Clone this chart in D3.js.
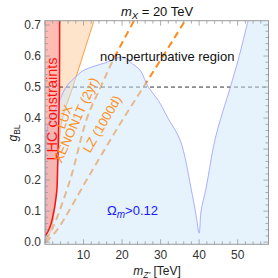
<!DOCTYPE html>
<html>
<head>
<meta charset="utf-8">
<script src="https://cdn.jsdelivr.net/npm/d3@7"></script>
<style>
  body { margin: 0; background: #fff; }
  text { font-family: "Liberation Sans", Arial, sans-serif; }
</style>
</head>
<body>
<svg id="chart" width="278" height="278"></svg>
<script>
// boundary of the Omega_m > 0.12 region [mZ' TeV, gBL]
var omegaX = [0.18, 0.18, 0.26, 0.78, 1.8, 3.4, 4.7, 6.0, 7.8, 9.6, 12.7, 16.1, 19.2, 20.5, 22.6, 24.7, 26.8, 29.4, 31.9, 35.1, 37.9, 39.2, 40.0, 40.5, 41.8, 44.2, 48.1, 50.1, 52.7];
var omegaG = [0.0, 0.2, 0.33, 0.377, 0.409, 0.444, 0.483, 0.509, 0.531, 0.551, 0.567, 0.58, 0.596, 0.596, 0.576, 0.554, 0.5, 0.457, 0.4, 0.328, 0.174, 0.087, 0.029, 0.1, 0.174, 0.335, 0.5, 0.586, 0.714];
// LHC constraint
var lhcX = [3.8, 3.75, 3.6, 3.3, 3.1, 2.6, 2.3, 1.6, 1.0, 0.3, 0.0];
var lhcG = [0.714, 0.5, 0.4, 0.25, 0.17, 0.12, 0.1, 0.06, 0.04, 0.024, 0.02];
// LUX
var luxX = [0.1, 0.8, 1.56, 2.5, 3.3, 4.4, 7.0, 10.1, 12.7];
var luxG = [0.0, 0.015, 0.039, 0.1, 0.25, 0.393, 0.492, 0.612, 0.714];
// XENON1T (2yr)
var xenonX = [0.26, 2.08, 6.5, 10.9, 14.3, 17.4, 23.1];
var xenonG = [0.006, 0.048, 0.2, 0.4, 0.496, 0.58, 0.714];
// LZ (1000d)
var lzX = [0.2, 3.1, 11.2, 19.7, 27.5, 35.1, 36.3];
var lzG = [0.0, 0.039, 0.209, 0.386, 0.538, 0.689, 0.714];

var xMajor = [10, 20, 30, 40, 50];
var yMajor = [0.0, 0.1, 0.2, 0.3, 0.4, 0.5, 0.6, 0.7];
var gPert = 0.5;

var svg = d3.select('#chart');
var x = d3.scaleLinear().domain([0, 58]).range([45, 268.5]);
var y = d3.scaleLinear().domain([-0.007, 0.714]).range([244.3, 20.7]);

function pts(xs, gs) { return xs.map(function(d, i) { return [d, gs[i]]; }); }
var line = d3.line().x(function(d) { return x(d[0]); }).y(function(d) { return y(d[1]); });
var smooth = d3.line().x(function(d) { return x(d[0]); }).y(function(d) { return y(d[1]); }).curve(d3.curveCatmullRom.alpha(0.5));

svg.append('defs').append('clipPath').attr('id', 'clip')
  .append('rect').attr('x', 45).attr('y', 20.7).attr('width', 223.5).attr('height', 223.6);
var plot = svg.append('g').attr('clip-path', 'url(#clip)');

var lhc = pts(lhcX, lhcG);
var lux = pts(luxX, luxG);

// LUX excluded band (between LHC line and LUX line)
plot.append('path')
  .attr('d', smooth(lhc) + 'L' + line(lux.concat([[12.7, 0.72], [3.8, 0.72]])).slice(1) + 'Z')
  .attr('fill', '#ffe4cc');

// projected direct detection lines
[pts(xenonX, xenonG), pts(lzX, lzG)].forEach(function(p) {
  plot.append('path').attr('d', smooth(p))
    .attr('fill', 'none').attr('stroke', '#ff8a1c').attr('stroke-width', 2)
    .attr('stroke-dasharray', '7,4.5');
});
plot.append('path').attr('d', smooth(lux))
  .attr('fill', 'none').attr('stroke', '#ff9a3c').attr('stroke-width', 1);

// perturbativity line
plot.append('line')
  .attr('x1', x(0)).attr('x2', x(58)).attr('y1', y(gPert)).attr('y2', y(gPert))
  .attr('stroke', '#333').attr('stroke-width', 1).attr('stroke-dasharray', '4,3');

// Omega_m > 0.12 region
var omega = pts(omegaX, omegaG);
plot.append('path')
  .attr('d', smooth(omega) + 'L' + x(58) + ',' + y(0.72) + 'L' + x(58) + ',' + y(-0.01) + 'L' + x(0.18) + ',' + y(-0.01) + 'Z')
  .attr('fill', '#cde7fb').attr('fill-opacity', 0.5);

// LHC excluded region
plot.append('path')
  .attr('d', smooth(lhc) + 'L' + x(0) + ',' + y(0.72) + 'Z')
  .attr('fill', '#ff7a6a').attr('fill-opacity', 0.5);

plot.append('path').attr('d', smooth(omega))
  .attr('fill', 'none').attr('stroke', '#9a9cff').attr('stroke-width', 0.8);

plot.append('path').attr('d', smooth(lhc))
  .attr('fill', 'none').attr('stroke', '#ff1010').attr('stroke-width', 1.5);

// labels
function rotLabel(txt, cx, cy, ang, col, size) {
  svg.append('text').attr('transform', 'translate(' + cx + ',' + cy + ') rotate(' + ang + ')')
    .attr('text-anchor', 'middle').attr('dominant-baseline', 'central')
    .attr('fill', col).attr('font-size', size).text(txt);
}
rotLabel('LHC constraints', 51.5, 109, -90, '#ff1010', 14.5);
rotLabel('LUX', 65, 117, -70, '#ff9020', 12.5);
rotLabel('XENON1T (2yr)', 76, 120, -66, '#ff9020', 13);
rotLabel('LZ (1000d)', 102, 124, -60, '#ff9020', 13);

svg.append('text').attr('x', 100).attr('y', 61).attr('font-size', 13).attr('fill', '#111')
  .text('non-perturbative region');

var om = svg.append('text').attr('x', 107).attr('y', 215).attr('font-size', 13).attr('fill', '#1a1aff');
om.append('tspan').text('Ω');
om.append('tspan').attr('font-style', 'italic').attr('font-size', 10).attr('dy', 3).text('m');
om.append('tspan').attr('dy', -3).text('>0.12');

// frame and ticks
var axisCol = '#999';
svg.append('rect').attr('x', 45).attr('y', 20.7).attr('width', 223.5).attr('height', 223.6)
  .attr('fill', 'none').attr('stroke', axisCol).attr('stroke-width', 1);

var ticks = svg.append('g').attr('stroke', axisCol).attr('stroke-width', 0.8);
d3.range(0, 58.01, 2).forEach(function(v) {
  var len = v % 10 === 0 ? 5 : 3;
  ticks.append('line').attr('x1', x(v)).attr('x2', x(v)).attr('y1', 244.3).attr('y2', 244.3 - len);
  ticks.append('line').attr('x1', x(v)).attr('x2', x(v)).attr('y1', 20.7).attr('y2', 20.7 + len);
});
d3.range(0, 71, 2).forEach(function(k) {
  var v = k / 100, len = k % 10 === 0 ? 5 : 3;
  ticks.append('line').attr('x1', 45).attr('x2', 45 + len).attr('y1', y(v)).attr('y2', y(v));
  ticks.append('line').attr('x1', 268.5).attr('x2', 268.5 - len).attr('y1', y(v)).attr('y2', y(v));
});

svg.selectAll('.xl').data(xMajor).enter().append('text')
  .attr('x', function(d) { return x(d); }).attr('y', 259)
  .attr('text-anchor', 'middle').attr('font-size', 12).attr('fill', '#333')
  .text(function(d) { return d; });
svg.selectAll('.yl').data(yMajor).enter().append('text')
  .attr('x', 41).attr('y', function(d) { return y(d); })
  .attr('text-anchor', 'end').attr('dominant-baseline', 'central').attr('font-size', 12).attr('fill', '#333')
  .text(function(d) { return d.toFixed(1); });

// axis titles
var yt = svg.append('text').attr('transform', 'translate(17,133) rotate(-90)')
  .attr('text-anchor', 'middle').attr('font-size', 12).attr('fill', '#222');
yt.append('tspan').attr('font-style', 'italic').text('g');
yt.append('tspan').attr('font-size', 8.5).attr('dy', 2.5).text('BL');

var xt = svg.append('text').attr('x', 157).attr('y', 275)
  .attr('text-anchor', 'middle').attr('font-size', 12).attr('fill', '#222');
xt.append('tspan').attr('font-style', 'italic').text('m');
xt.append('tspan').attr('font-style', 'italic').attr('font-size', 8.5).attr('dy', 2.5).text("Z'");
xt.append('tspan').attr('dy', -2.5).text(' [TeV]');

var tt = svg.append('text').attr('x', 157).attr('y', 16)
  .attr('text-anchor', 'middle').attr('font-size', 13).attr('fill', '#111');
tt.append('tspan').attr('font-style', 'italic').text('m');
tt.append('tspan').attr('font-style', 'italic').attr('font-size', 9.5).attr('dy', 3).text('X');
tt.append('tspan').attr('dy', -3).text(' = 20 TeV');
</script>
</body>
</html>
